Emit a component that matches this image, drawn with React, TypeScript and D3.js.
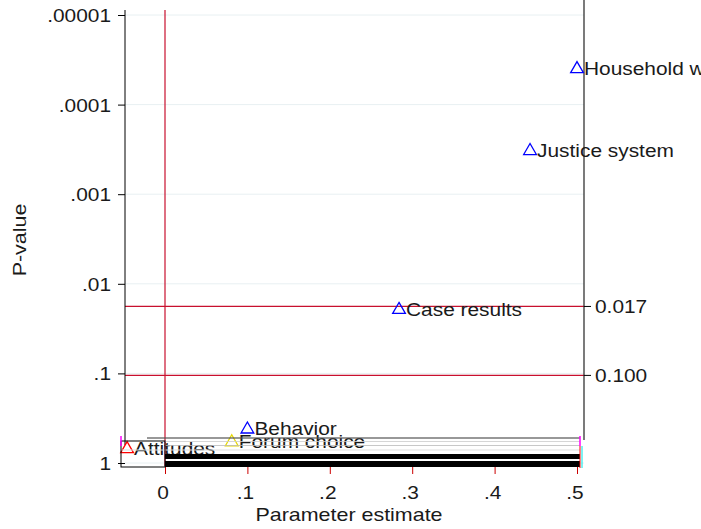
import { useEffect, useRef } from 'react';
import * as d3 from 'd3';

// outcomes and their estimates / p-values
const labels = ['Household w', 'Justice system', 'Case results', 'Behavior', 'Forum choice', 'Attitudes'];
const estimates = [0.5, 0.443, 0.284, 0.1, 0.081, -0.046];
const pValues = [0.000039, 0.00032, 0.019, 0.41, 0.57, 0.68];
const markColors = ['#0000ff', '#0000ff', '#0000ff', '#0000ff', '#e6d800', '#ff0000'];

const xTicks = [0, 0.1, 0.2, 0.3, 0.4, 0.5];
const xTickLabels = ['0', '.1', '.2', '.3', '.4', '.5'];
const yTicks = [0.00001, 0.0001, 0.001, 0.01, 0.1, 1];
const yTickLabels = ['.00001', '.0001', '.001', '.01', '.1', '1'];
const thresholds = [0.017, 0.1];
const thresholdLabels = ['0.017', '0.100'];

function App() {
  const svgRef = useRef<SVGSVGElement>(null);

  useEffect(() => {
    const width = 701;
    const height = 529;
    const font = 'Arial, "Liberation Sans", sans-serif';
    const sx = 1.16; // text in the original is drawn a bit wide

    d3.select(svgRef.current).selectAll('*').remove();
    const svg = d3.select(svgRef.current)
      .attr('width', width)
      .attr('height', height);

    const x = d3.scaleLinear().domain([0, 0.5]).range([165, 577]);
    const y = d3.scaleLog().domain([1, 0.00001]).range([463, 15]);

    const left = 125;
    const right = 584;

    // wide text helper
    const label = (g: any, tx: number, ty: number, txt: string, anchor = 'start', size = 18, rot = 0) =>
      g.append('text')
        .attr('transform', `translate(${tx},${ty}) rotate(${rot}) scale(${sx},1)`)
        .attr('text-anchor', anchor)
        .attr('font-family', font).attr('font-size', size).attr('fill', '#1a1a1a')
        .text(txt);

    // grid
    svg.append('g').selectAll('line')
      .data(yTicks)
      .join('line')
      .attr('x1', left).attr('x2', right)
      .attr('y1', d => y(d)).attr('y2', d => y(d))
      .attr('stroke', '#e8f0f2').attr('stroke-width', 1);

    // reference lines
    svg.append('line')
      .attr('x1', x(0)).attr('x2', x(0))
      .attr('y1', 10).attr('y2', 466)
      .attr('stroke', '#c8102e').attr('stroke-width', 1.2);
    svg.append('g').selectAll('line')
      .data(thresholds)
      .join('line')
      .attr('x1', left).attr('x2', right)
      .attr('y1', d => y(d) + 2).attr('y2', d => y(d) + 2)
      .attr('stroke', '#c8102e').attr('stroke-width', 1.2);

    // axes
    const yAxis = svg.append('g').attr('transform', `translate(${left},0)`)
      .call(d3.axisLeft(y).tickValues(yTicks).tickFormat(() => '').tickSize(7).tickSizeOuter(0));
    yAxis.select('.domain').attr('stroke', '#000').attr('d', 'M0,10V445');
    yAxis.selectAll('.tick line').attr('stroke', '#000');
    yTicks.forEach((t, i) => {
      label(svg, left - 14, y(t) + 7, yTickLabels[i], 'end');
    });

    const rAxis = svg.append('g').attr('transform', `translate(${right},0)`);
    rAxis.append('line').attr('x1', 0).attr('x2', 0).attr('y1', 0).attr('y2', 440)
      .attr('stroke', '#222').attr('stroke-width', 1.2);
    thresholds.forEach((t, i) => {
      rAxis.append('line').attr('x1', 0).attr('x2', 7).attr('y1', y(t) + 2).attr('y2', y(t) + 2)
        .attr('stroke', '#000');
      label(rAxis, 11, y(t) + 9, thresholdLabels[i]);
    });

    const xAxis = svg.append('g').attr('transform', 'translate(0,467)')
      .call(d3.axisBottom(x).tickValues(xTicks).tickFormat(() => '').tickSize(7).tickSizeOuter(0));
    xAxis.select('.domain').remove();
    xAxis.selectAll('.tick line').attr('stroke', '#cc0000');
    xTicks.forEach((t, i) => {
      label(svg, x(t) - 2, 499, xTickLabels[i], 'middle');
    });

    // points
    const pts = svg.append('g');
    labels.forEach((lab, i) => {
      const cx = x(estimates[i]);
      const cy = y(pValues[i]);
      pts.append('path')
        .attr('d', d3.symbol(d3.symbolTriangle, 70)())
        .attr('transform', `translate(${cx},${cy + 1})`)
        .attr('fill', 'none')
        .attr('stroke', markColors[i])
        .attr('stroke-width', 1.3);
      label(pts, cx + 7, cy + 7, lab);
    });

    // bottom artifacts (ci band leftovers)
    const band = svg.append('g');
    band.append('line').attr('x1', 147).attr('x2', 580).attr('y1', 438).attr('y2', 438)
      .attr('stroke', '#555').attr('stroke-width', 1.5).attr('opacity', 0.8);
    band.append('line').attr('x1', x(0)).attr('x2', 580).attr('y1', 441.5).attr('y2', 441.5)
      .attr('stroke', '#ccc').attr('stroke-width', 1).attr('opacity', 0.8);
    band.append('line').attr('x1', x(0)).attr('x2', 580).attr('y1', 445.5).attr('y2', 445.5)
      .attr('stroke', '#bbb').attr('stroke-width', 1).attr('opacity', 0.8);
    band.append('line').attr('x1', 121).attr('x2', 580).attr('y1', 450).attr('y2', 450)
      .attr('stroke', '#ddd').attr('stroke-width', 1);
    band.append('rect').attr('x', x(0)).attr('y', 454).attr('width', 580 - x(0)).attr('height', 5)
      .attr('fill', '#000');
    band.append('rect').attr('x', x(0)).attr('y', 461).attr('width', 580 - x(0)).attr('height', 6)
      .attr('fill', '#000');
    band.append('rect').attr('x', 121).attr('y', 441).attr('width', x(0) - 121).attr('height', 26)
      .attr('fill', 'none').attr('stroke', '#000').attr('stroke-width', 1);
    band.append('line').attr('x1', 121).attr('x2', 121).attr('y1', 436).attr('y2', 446)
      .attr('stroke', '#ff00ff').attr('stroke-width', 1.5);
    band.append('line').attr('x1', 580).attr('x2', 580).attr('y1', 436).attr('y2', 446)
      .attr('stroke', '#ff00ff').attr('stroke-width', 1.5);
    band.append('line').attr('x1', 580).attr('x2', 580).attr('y1', 446).attr('y2', 468)
      .attr('stroke', '#ff0000').attr('stroke-width', 1);
    band.append('line').attr('x1', 582).attr('x2', 582).attr('y1', 446).attr('y2', 468)
      .attr('stroke', '#00e5e5').attr('stroke-width', 1);

    // titles
    label(svg, 349, 521, 'Parameter estimate', 'middle', 18.5);
    label(svg, 26, 240, 'P-value', 'middle', 18.5, -90);
  }, []);

  return (
    <div style={{ position: 'absolute', left: 0, top: 0 }}>
      <svg ref={svgRef} style={{ display: 'block', background: '#fff' }}></svg>
    </div>
  );
}

export default App;
